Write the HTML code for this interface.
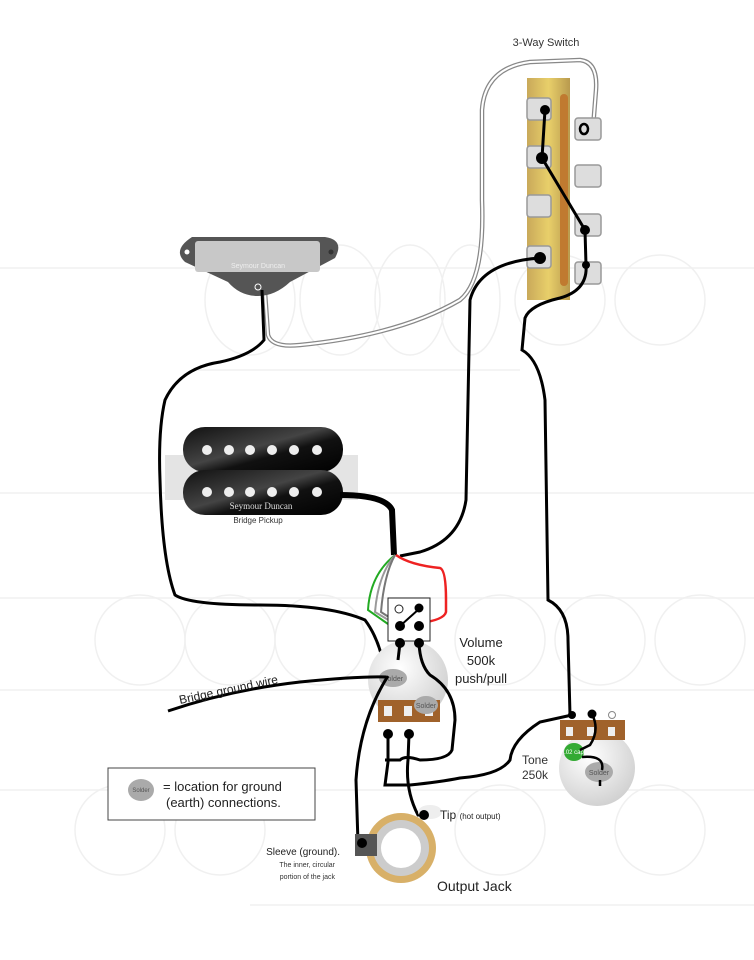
<!DOCTYPE html>
<html><head><meta charset="utf-8"><style>
html,body{margin:0;padding:0;background:#fff;}
svg{display:block;font-family:"Liberation Sans",sans-serif;}
</style></head><body>
<svg width="754" height="960" viewBox="0 0 754 960" xmlns="http://www.w3.org/2000/svg">
<defs>
<linearGradient id="brass" x1="0" x2="1" y1="0" y2="0">
<stop offset="0" stop-color="#c9a95a"/><stop offset="0.5" stop-color="#e8cf6a"/><stop offset="1" stop-color="#b99a4e"/>
</linearGradient>
<radialGradient id="pot" cx="0.4" cy="0.35" r="0.7">
<stop offset="0" stop-color="#ffffff"/><stop offset="1" stop-color="#cfcfcf"/>
</radialGradient>
<linearGradient id="hb" x1="0" x2="1" y1="0" y2="1">
<stop offset="0" stop-color="#111"/><stop offset="0.45" stop-color="#444"/><stop offset="0.6" stop-color="#111"/><stop offset="1" stop-color="#000"/>
</linearGradient>
</defs>
<g stroke="#f0f0f0" fill="none" stroke-width="1.5">
<line x1="0" y1="268" x2="754" y2="268"/><line x1="195" y1="370" x2="520" y2="370"/>
<line x1="0" y1="493" x2="754" y2="493"/><line x1="0" y1="598" x2="754" y2="598"/>
<line x1="0" y1="690" x2="754" y2="690"/><line x1="0" y1="790" x2="754" y2="790"/>
<line x1="250" y1="905" x2="754" y2="905"/>
<ellipse cx="250" cy="300" rx="45" ry="55"/><ellipse cx="340" cy="300" rx="40" ry="55"/>
<ellipse cx="410" cy="300" rx="35" ry="55"/><ellipse cx="470" cy="300" rx="30" ry="55"/>
<circle cx="140" cy="640" r="45"/><circle cx="230" cy="640" r="45"/><circle cx="320" cy="640" r="45"/>
<circle cx="500" cy="640" r="45"/><circle cx="600" cy="640" r="45"/><circle cx="700" cy="640" r="45"/>
<circle cx="120" cy="830" r="45"/><circle cx="220" cy="830" r="45"/><circle cx="500" cy="830" r="45"/><circle cx="660" cy="830" r="45"/>
<circle cx="560" cy="300" r="45"/><circle cx="660" cy="300" r="45"/>
</g>

<path d="M265 292 L268 335 Q272 348 300 345 Q400 335 460 300 Q485 280 482 200 L482 110 Q485 68 530 62 L580 60 Q598 62 596 90 L593 128" fill="none" stroke="#888" stroke-width="4.5"/>
<path d="M265 292 L268 335 Q272 348 300 345 Q400 335 460 300 Q485 280 482 200 L482 110 Q485 68 530 62 L580 60 Q598 62 596 90 L593 128" fill="none" stroke="#fff" stroke-width="2"/>

<rect x="527" y="78" width="43" height="222" fill="url(#brass)"/>
<g fill="#ddd" stroke="#999" stroke-width="1.5">
<rect x="527" y="98" width="24" height="22" rx="3"/><rect x="527" y="146" width="24" height="22" rx="3"/>
<rect x="527" y="195" width="24" height="22" rx="3"/><rect x="527" y="246" width="24" height="22" rx="3"/>
<rect x="575" y="118" width="26" height="22" rx="3"/><rect x="575" y="165" width="26" height="22" rx="3"/>
<rect x="575" y="214" width="26" height="22" rx="3"/><rect x="575" y="262" width="26" height="22" rx="3"/>
</g>
<rect x="560" y="94" width="8" height="192" rx="4" fill="#c07a30"/>
<path d="M545 110 L542 158 L585 230 L586 265 Q588 290 560 298 Q530 305 525 318 L522 350 Q540 360 545 400 L548 600 Q568 610 568 640 L570 715" fill="none" stroke="#000" stroke-width="3"/>
<path d="M540 258 Q480 262 470 300 L466 500 Q460 540 420 552 L400 556" fill="none" stroke="#000" stroke-width="3"/>
<g fill="#000"><circle cx="545" cy="110" r="5"/><circle cx="542" cy="158" r="6"/><circle cx="585" cy="230" r="5"/><circle cx="586" cy="265" r="4"/><circle cx="540" cy="258" r="6"/></g>
<ellipse cx="584" cy="129" rx="4" ry="5" fill="none" stroke="#000" stroke-width="2.5"/>

<path d="M192 237 L325 237 Q345 240 335 258 L290 282 Q275 296 258 296 Q240 296 228 282 L185 262 Q172 250 192 237 Z" fill="#555"/>
<rect x="195" y="241" width="125" height="31" rx="3" fill="#c8c8c8"/>
<text x="258" y="268" font-size="7" fill="#eee" text-anchor="middle">Seymour Duncan</text>
<circle cx="187" cy="252" r="2.5" fill="#fff"/><circle cx="331" cy="252" r="2.5" fill="#333"/>
<circle cx="258" cy="287" r="3" fill="none" stroke="#fff" stroke-width="1"/>

<path d="M262 290 L264 340 Q252 355 220 362 Q180 368 165 400 Q158 430 160 480 Q162 560 175 595 Q190 605 260 605 Q330 605 365 620 Q380 640 385 672" fill="none" stroke="#000" stroke-width="3"/>

<rect x="165" y="455" width="193" height="45" fill="#e4e4e4"/>
<rect x="183" y="427" width="160" height="45" rx="22" fill="url(#hb)"/>
<rect x="183" y="470" width="160" height="45" rx="22" fill="url(#hb)"/>
<g fill="#eee">
<circle cx="207" cy="450" r="5"/><circle cx="229" cy="450" r="5"/><circle cx="250" cy="450" r="5"/><circle cx="272" cy="450" r="5"/><circle cx="294" cy="450" r="5"/><circle cx="317" cy="450" r="5"/>
<circle cx="207" cy="492" r="5"/><circle cx="229" cy="492" r="5"/><circle cx="250" cy="492" r="5"/><circle cx="272" cy="492" r="5"/><circle cx="294" cy="492" r="5"/><circle cx="317" cy="492" r="5"/>
</g>
<text x="261" y="509" font-size="9" fill="#ddd" text-anchor="middle" font-family="Liberation Serif,serif">Seymour Duncan</text>
<text x="258" y="523" font-size="8" fill="#333" text-anchor="middle">Bridge Pickup</text>

<path d="M340 495 Q385 495 392 510 L394 555" fill="none" stroke="#000" stroke-width="6"/>
<path d="M395 555 Q370 575 368 610 L388 624" fill="none" stroke="#2a2" stroke-width="2"/>
<path d="M395 555 Q378 575 375 612 L395 624" fill="none" stroke="#999" stroke-width="2"/>
<path d="M395 555 Q384 575 381 612 L398 623" fill="none" stroke="#777" stroke-width="2"/>
<path d="M396 555 Q410 565 440 568 Q446 570 446 600 L446 612 Q444 620 420 623" fill="none" stroke="#e22" stroke-width="2.5"/>

<circle cx="408" cy="680" r="40" fill="url(#pot)"/>
<rect x="378" y="700" width="62" height="22" fill="#a0622b"/>
<rect x="384" y="706" width="8" height="10" fill="#eee"/><rect x="404" y="706" width="8" height="10" fill="#eee"/><rect x="425" y="706" width="8" height="10" fill="#eee"/>
<ellipse cx="393" cy="678" rx="14" ry="9" fill="#aaa"/><text x="393" y="681" font-size="7" fill="#555" text-anchor="middle">Solder</text>
<ellipse cx="426" cy="705" rx="12" ry="9" fill="#aaa"/><text x="426" y="708" font-size="7" fill="#555" text-anchor="middle">Solder</text>
<rect x="388" y="598" width="42" height="43" fill="#fff" stroke="#222" stroke-width="1"/>
<circle cx="399" cy="609" r="4" fill="none" stroke="#222"/>
<path d="M419 609 L400 626" stroke="#000" stroke-width="2"/>
<g fill="#000"><circle cx="419" cy="608" r="4.5"/><circle cx="400" cy="626" r="5"/><circle cx="419" cy="626" r="5"/><circle cx="400" cy="643" r="5"/><circle cx="419" cy="643" r="5"/><circle cx="388" cy="734" r="5"/><circle cx="409" cy="734" r="5"/><circle cx="572" cy="715" r="4"/><circle cx="592" cy="714" r="4.5"/></g>

<path d="M400 643 L398 660" stroke="#000" stroke-width="3"/>
<path d="M419 643 Q420 665 430 675 Q455 690 455 720 L452 750 Q448 760 420 760 Q405 755 400 760 L385 760" fill="none" stroke="#000" stroke-width="3"/>
<path d="M388 734 L388 762 L385 785 L410 785 Q440 782 460 778 Q500 775 510 760 Q512 740 540 722 L572 715" fill="none" stroke="#000" stroke-width="3"/>
<path d="M409 734 L408 760 Q405 790 418 815 L424 815" fill="none" stroke="#000" stroke-width="3"/>
<path d="M388 676 Q360 720 356 780 L358 843 L362 843" fill="none" stroke="#000" stroke-width="3"/>
<path d="M168 711 Q230 690 300 682 Q360 676 386 677" fill="none" stroke="#000" stroke-width="3"/>

<circle cx="597" cy="768" r="38" fill="url(#pot)"/>
<rect x="560" y="720" width="65" height="20" fill="#a0622b"/>
<rect x="566" y="727" width="7" height="9" fill="#eee"/><rect x="587" y="727" width="7" height="9" fill="#eee"/><rect x="608" y="727" width="7" height="9" fill="#eee"/>
<circle cx="612" cy="715" r="3.5" fill="none" stroke="#888"/>
<ellipse cx="574" cy="752" rx="10" ry="9" fill="#3a3"/><text x="574" y="754" font-size="6" fill="#fff" text-anchor="middle">.02 cap</text>
<ellipse cx="599" cy="772" rx="14" ry="10" fill="#aaa"/><text x="599" y="775" font-size="7" fill="#555" text-anchor="middle">Solder</text>
<path d="M592 714 Q600 730 590 745 L580 750 M582 757 Q605 755 602 770" fill="none" stroke="#000" stroke-width="2.5"/>
<path d="M600 780 L600 786" stroke="#000" stroke-width="2.5"/>

<circle cx="401" cy="848" r="35" fill="#d8b068"/>
<circle cx="401" cy="848" r="28" fill="#ccc"/>
<circle cx="401" cy="848" r="20" fill="#fff"/>
<rect x="355" y="834" width="22" height="22" fill="#555"/>
<ellipse cx="430" cy="812" rx="12" ry="7" fill="#eee"/>
<circle cx="424" cy="815" r="5" fill="#000"/>
<circle cx="362" cy="843" r="5" fill="#000"/>

<rect x="108" y="768" width="207" height="52" fill="#fff" stroke="#444" stroke-width="1"/>
<ellipse cx="141" cy="790" rx="13" ry="11" fill="#aaa"/><text x="141" y="792" font-size="6" fill="#555" text-anchor="middle">Solder</text>
<text x="163" y="791" font-size="13" fill="#222">= location for ground</text>
<text x="166" y="807" font-size="13" fill="#222">(earth) connections.</text>

<text x="546" y="46" font-size="11" fill="#333" text-anchor="middle">3-Way Switch</text>
<text x="481" y="647" font-size="13" fill="#222" text-anchor="middle">Volume</text>
<text x="481" y="665" font-size="13" fill="#222" text-anchor="middle">500k</text>
<text x="481" y="683" font-size="13" fill="#222" text-anchor="middle">push/pull</text>
<text x="535" y="764" font-size="12" fill="#333" text-anchor="middle">Tone</text>
<text x="535" y="779" font-size="12" fill="#333" text-anchor="middle">250k</text>
<text x="440" y="819" font-size="12" fill="#222">Tip <tspan font-size="8">(hot output)</tspan></text>
<text x="340" y="855" font-size="10" fill="#222" text-anchor="end">Sleeve (ground).</text>
<text x="335" y="867" font-size="7" fill="#333" text-anchor="end">The inner, circular</text>
<text x="335" y="879" font-size="7" fill="#333" text-anchor="end">portion of the jack</text>
<text x="437" y="891" font-size="14" fill="#222">Output Jack</text>
<text x="180" y="704" font-size="12" fill="#222" transform="rotate(-12 180 704)">Bridge ground wire</text>
</svg>
</body></html>
